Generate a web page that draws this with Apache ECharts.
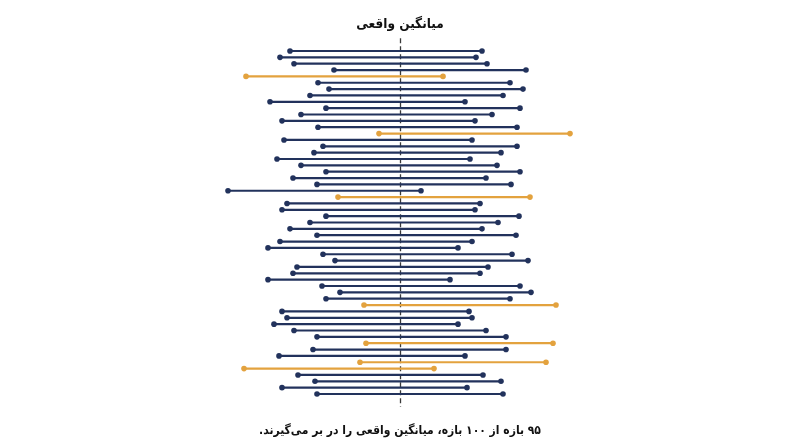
<!DOCTYPE html>
<html>
<head>
<meta charset="utf-8">
<script src="https://cdn.jsdelivr.net/npm/echarts@6/dist/echarts.min.js"></script>
<style>html,body{margin:0;padding:0;background:#fff;}#c{width:800px;height:447px;}</style>
</head>
<body>
<div id="c"></div>
<script>
// True mean of the population
const trueMean = 100;
// Lower and upper bounds of each confidence interval (sample 1 at top)
const lows = [89.0,88.0,89.4,93.4,84.6,91.8,92.9,91.0,87.0,92.6,
  90.1,88.2,91.8,97.9,88.4,92.3,91.4,87.7,90.1,92.6,
  89.3,91.7,82.8,93.8,88.7,88.2,92.6,91.0,89.0,91.7,
  88.0,86.8,92.3,93.5,89.7,89.3,86.8,92.2,94.0,92.6,
  96.4,88.2,88.7,87.4,89.4,91.7,96.6,91.3,87.9,96.0,
  84.4,89.8,91.5,88.2,91.7];
const highs = [108.2,107.6,108.7,112.6,104.3,111.0,112.3,110.3,106.5,112.0,
  109.2,107.5,111.7,117.0,107.2,111.7,110.1,107.0,109.7,112.0,
  108.6,111.1,102.1,113.0,108.0,107.5,111.9,109.8,108.2,111.6,
  107.2,105.8,111.2,112.8,108.8,108.0,105.0,112.0,113.1,111.0,
  115.6,106.9,107.2,105.8,108.6,110.6,115.3,110.6,106.5,114.6,
  103.4,108.3,110.1,106.7,110.3];
// 1 = highlighted interval
const highlighted = [0,0,0,0,1,0,0,0,0,0,
  0,0,0,1,0,0,0,0,0,0,
  0,0,0,1,0,0,0,0,0,0,
  0,0,0,0,0,0,0,0,0,0,
  1,0,0,0,0,0,1,0,0,1,
  1,0,0,0,0];
const titleText = 'میانگین واقعی';
const captionText = '\u200F۹۵ بازه از ۱۰۰ بازه، میانگین واقعی را در بر می\u200Cگیرند.\u200F';

const NAVY = '#22325c';
const ORANGE = '#e3a23e';

const data = lows.map((lo, i) => [lo, highs[i], i + 1, highlighted[i]]);

const chart = echarts.init(document.getElementById('c'), null, {renderer: 'canvas'});
chart.setOption({
  backgroundColor: '#ffffff',
  animation: false,
  title: [
    {text: titleText, left: 'center', top: 12,
     textStyle: {fontFamily: '"DejaVu Sans Condensed", "DejaVu Sans"', fontWeight: 'bold', fontSize: 13.5, color: '#111'}},
    {text: captionText, left: 'center', top: 420,
     textStyle: {fontFamily: '"DejaVu Sans Condensed", "DejaVu Sans"', fontWeight: 'bold', fontSize: 12, color: '#111'}}
  ],
  grid: {left: 200, right: 200, top: 38.3, height: 368.4},
  xAxis: {type: 'value', min: 80, max: 120, show: false},
  yAxis: {type: 'value', min: -1, max: 57, inverse: true, show: false},
  series: [{
    type: 'custom',
    data: data,
    encode: {x: [0, 1], y: 2},
    renderItem: function (params, api) {
      const y = api.value(2);
      const p1 = api.coord([api.value(0), y]);
      const p2 = api.coord([api.value(1), y]);
      const col = api.value(3) ? ORANGE : NAVY;
      return {
        type: 'group',
        children: [
          {type: 'line', shape: {x1: p1[0], y1: p1[1], x2: p2[0], y2: p2[1]},
           style: {stroke: col, lineWidth: 2.2}},
          {type: 'circle', shape: {cx: p1[0], cy: p1[1], r: 2.8}, style: {fill: col}},
          {type: 'circle', shape: {cx: p2[0], cy: p2[1], r: 2.8}, style: {fill: col}}
        ]
      };
    },
    z: 3,
    markLine: {
      silent: true,
      symbol: 'none',
      label: {show: false},
      lineStyle: {color: '#3a3a3a', width: 1.3, type: [5, 3]},
      data: [{xAxis: trueMean}],
      z: 2
    }
  }]
});
</script>
</body>
</html>
